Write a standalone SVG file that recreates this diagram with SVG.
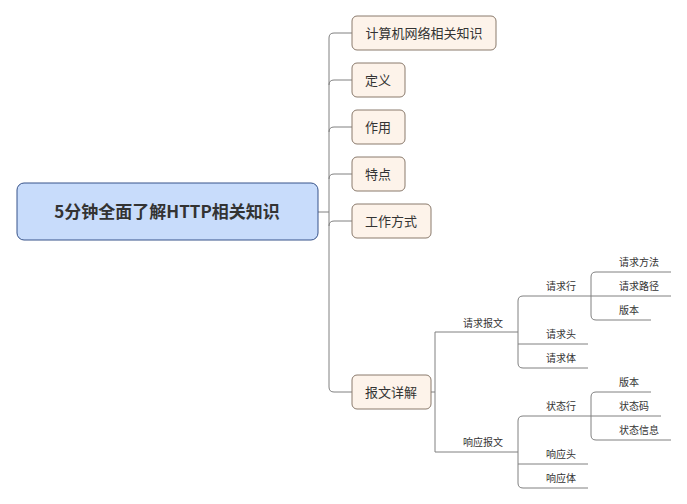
<svg xmlns="http://www.w3.org/2000/svg" width="687" height="504" viewBox="0 0 687 504">
<style>
.b{fill:#fdf3ea;stroke:#8a7a6c;stroke-width:1}
.r{fill:#c8dcfb;stroke:#37538a;stroke-width:1}
text{font-family:"Noto Sans CJK SC","Noto Sans",sans-serif;fill:#333}
.t{font-size:13px}
.s{font-size:10px}
.c path{fill:none;stroke:#808080;stroke-width:1}
</style>
<rect width="687" height="504" fill="#fff"/>
<g class="c">
<path d="M318 212H329"/>
<path d="M352 33H334Q329 33 329 38V387Q329 392 334 392H352"/>
<path d="M329 85Q329 80 334 80H352M329 132Q329 127 334 127H352M329 179Q329 174 334 174H352M329 226Q329 221 334 221H352"/>
<path d="M431 392H435"/>
<path d="M518 332H435V452H518"/>
<path d="M591 296H523Q518 296 518 301V363Q518 368 523 368H588M518 344H588"/>
<path d="M671 272H596Q591 272 591 277V315Q591 320 596 320H651M591 296H671"/>
<path d="M591 416H523Q518 416 518 421V483Q518 488 523 488H588M518 464H588"/>
<path d="M651 392H596Q591 392 591 397V435Q591 440 596 440H671M591 416H661"/>
</g>
<g id="root"><rect class="r" x="17" y="183" width="301" height="57" rx="7"/><text x="167" y="218" font-size="17" font-weight="bold" text-anchor="middle">5分钟全面了解HTTP相关知识</text></g>
<g id="n1"><rect class="b" x="352" y="16" width="144" height="34" rx="5"/><text class="t" x="424" y="38" text-anchor="middle">计算机网络相关知识</text></g>
<g id="n2"><rect class="b" x="352" y="63" width="53" height="34" rx="5"/><text class="t" x="378" y="85" text-anchor="middle">定义</text></g>
<g id="n3"><rect class="b" x="352" y="110" width="53" height="34" rx="5"/><text class="t" x="378" y="132" text-anchor="middle">作用</text></g>
<g id="n4"><rect class="b" x="352" y="157" width="53" height="34" rx="5"/><text class="t" x="378" y="179" text-anchor="middle">特点</text></g>
<g id="n5"><rect class="b" x="352" y="204" width="79" height="34" rx="5"/><text class="t" x="391" y="226" text-anchor="middle">工作方式</text></g>
<g id="n6"><rect class="b" x="352" y="375" width="79" height="34" rx="5"/><text class="t" x="391" y="397" text-anchor="middle">报文详解</text></g>
<g id="req"><text class="s" x="463" y="327">请求报文</text></g>
<g id="reql"><text class="s" x="546" y="290">请求行</text></g>
<g id="reqh"><text class="s" x="546" y="338">请求头</text></g>
<g id="reqb"><text class="s" x="546" y="362">请求体</text></g>
<g id="m"><text class="s" x="619" y="266">请求方法</text></g>
<g id="p"><text class="s" x="619" y="290">请求路径</text></g>
<g id="v1"><text class="s" x="619" y="314">版本</text></g>
<g id="res"><text class="s" x="463" y="446">响应报文</text></g>
<g id="resl"><text class="s" x="546" y="410">状态行</text></g>
<g id="resh"><text class="s" x="546" y="458">响应头</text></g>
<g id="resb"><text class="s" x="546" y="482">响应体</text></g>
<g id="v2"><text class="s" x="619" y="386">版本</text></g>
<g id="sc"><text class="s" x="619" y="410">状态码</text></g>
<g id="si"><text class="s" x="619" y="434">状态信息</text></g>
</svg>
